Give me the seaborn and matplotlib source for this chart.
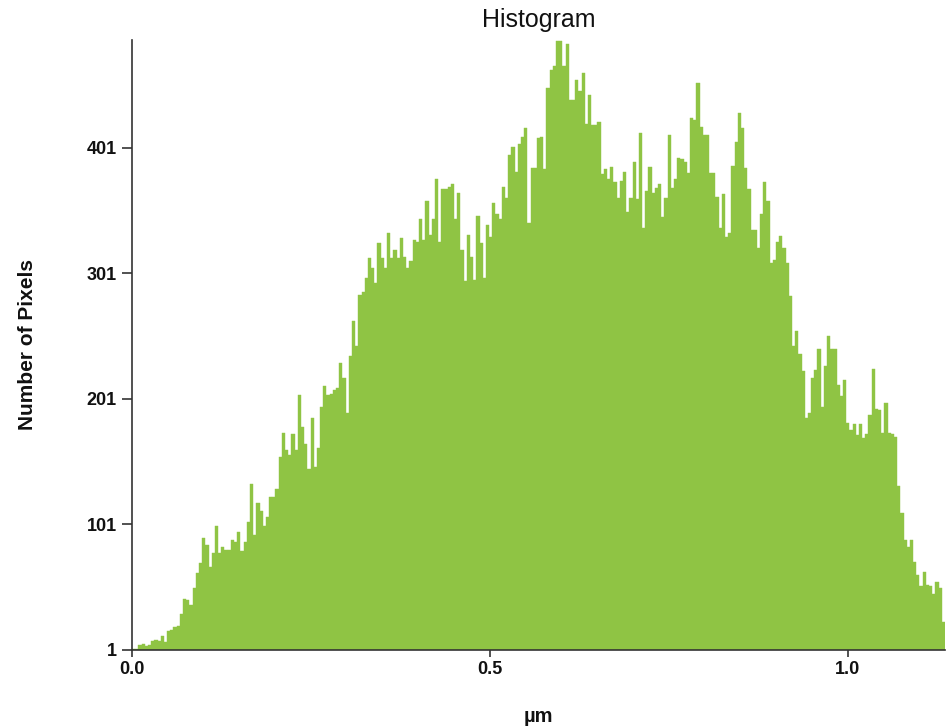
import numpy as np
import pandas as pd
import matplotlib
matplotlib.use("Agg")
import matplotlib.pyplot as plt
import seaborn as sns

# Pixel counts per height bin, left to right
counts = [
    2, 2, 5, 6, 4, 5, 8, 9, 8, 12, 7, 16, 17, 19, 20, 30, 42, 41, 37, 50,
    62, 70, 90, 85, 67, 78, 100, 78, 83, 81, 81,
    89, 87, 95, 80, 87, 103, 133, 93, 118, 112, 100, 107, 123, 123, 129, 155,
    174, 160, 156, 173, 160, 204, 179, 165, 145, 186, 147, 162, 195, 211, 204, 205,
    208, 210, 230, 218, 190, 235, 263, 243, 284, 286, 297, 313, 305, 293, 325,
    313, 305, 333, 313, 320, 313, 329, 314, 305, 311, 328, 326, 344, 328, 359, 332, 344,
    376, 326, 368, 368, 370, 372, 344, 365, 320, 295, 332, 314, 296, 347, 325,
    297, 340, 330, 357, 348, 344, 370, 361, 395, 402, 382, 404, 410, 417, 341, 385,
    385, 409, 410, 384, 449, 463, 466, 486, 486, 466, 484, 439, 439, 455, 446,
    461, 420, 443, 419, 419, 422, 380, 384, 376, 386, 374, 361, 375, 382, 350, 361, 390,
    360, 413, 337, 367, 386, 365, 369, 372, 346, 361, 411, 369, 376, 393, 392,
    390, 381, 425, 423, 453, 418, 411, 411, 381, 381, 362, 337, 364, 330, 333, 387,
    406, 429, 417, 385, 368, 336, 336, 321, 348, 374, 359, 309, 312, 326, 331, 321, 309, 283,
    243, 255, 237, 223, 186, 190, 218, 224, 241, 195, 227, 251,
    241, 241, 212, 203, 216, 182, 176, 181, 172, 181, 170, 173, 188, 225, 193,
    192, 174, 198, 174, 173, 171, 132, 110, 89, 83, 89, 71, 61, 52, 63, 53, 52,
    46, 55, 50, 23,
]

x_max = 1.1355
y_ticks = [1, 101, 201, 301, 401]
x_ticks = [0.0, 0.5, 1.0]
x_tick_labels = ["0.0", "0.5", "1.0"]

n_bins = len(counts)
edges = np.linspace(0.0, x_max, n_bins + 1)
centers = 0.5 * (edges[:-1] + edges[1:])
df = pd.DataFrame({"height": centers, "pixels": counts})

sns.set_style("white")
plt.rcParams["font.family"] = ["Liberation Sans", "DejaVu Sans"]

fig = plt.figure(figsize=(9.49, 7.27), dpi=100)
ax = fig.add_axes([132 / 949, 1 - 650 / 727, (945 - 132) / 949, (650 - 40) / 727])

sns.histplot(
    data=df, x="height", weights="pixels", bins=n_bins, binrange=(0.0, x_max),
    color="#8fc444", alpha=1.0, edgecolor="#8fc444", linewidth=0.3, ax=ax,
)

ax.set_xlim(0, x_max)
ax.set_ylim(1, max(counts) + 1)
ax.set_xticks(x_ticks)
ax.set_xticklabels(x_tick_labels)
ax.set_yticks(y_ticks)

for side in ("top", "right"):
    ax.spines[side].set_visible(False)
for side in ("left", "bottom"):
    ax.spines[side].set_color("#333333")
    ax.spines[side].set_linewidth(1.2)

ax.tick_params(axis="both", which="major", direction="out", width=1.2,
               color="#333333", labelsize=13, labelcolor="#111111",
               left=True, bottom=True)
ax.tick_params(axis="y", length=7.5, pad=3.5)
ax.tick_params(axis="x", length=5, pad=3)
for lbl in ax.get_xticklabels() + ax.get_yticklabels():
    lbl.set_fontweight("bold")

ax.set_title("Histogram", fontsize=18, color="#111111", pad=9)
ax.set_xlabel("µm", fontsize=14.5, fontweight="bold", color="#111111")
ax.set_ylabel("Number of Pixels", fontsize=15, fontweight="bold", color="#111111")
ax.xaxis.set_label_coords(0.5, -0.094)
ax.yaxis.set_label_coords(-0.1169, 0.5)

fig.savefig("out.png", dpi=100)
